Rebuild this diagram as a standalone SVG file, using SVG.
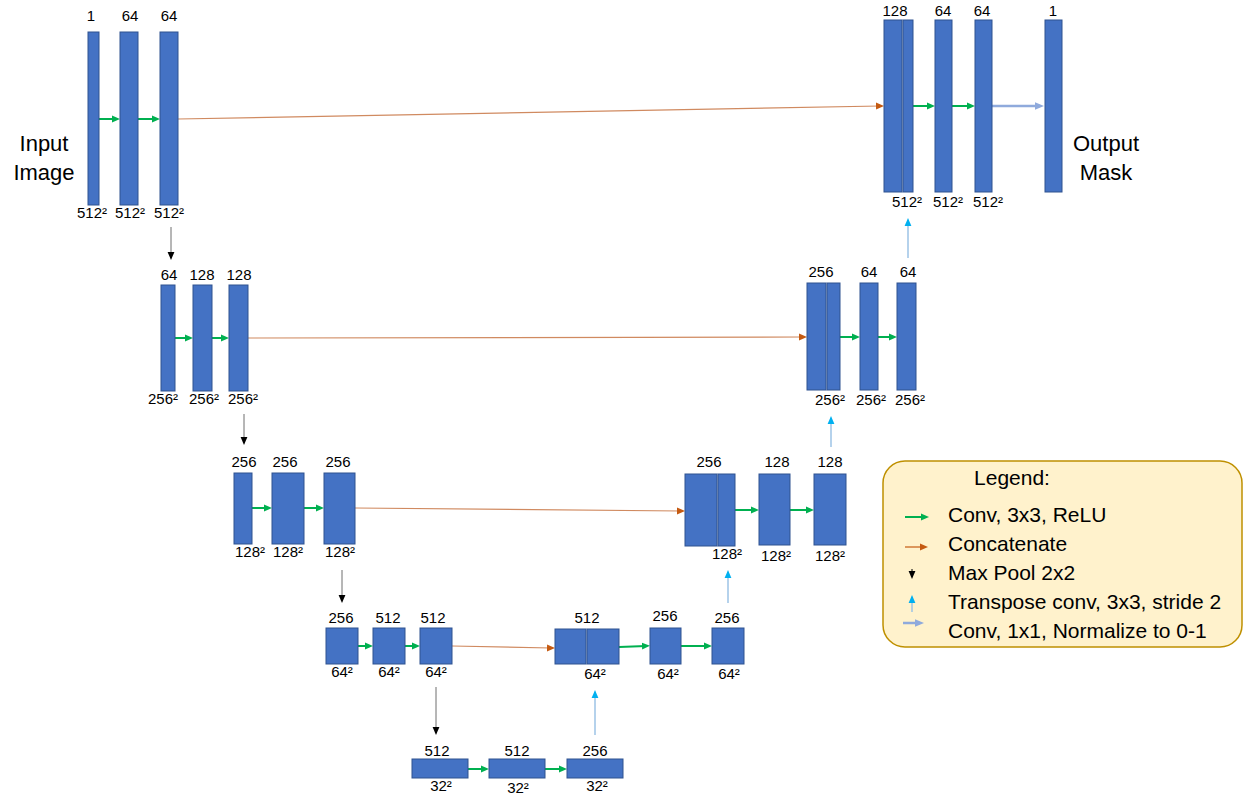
<svg xmlns="http://www.w3.org/2000/svg" width="1244" height="794" viewBox="0 0 1244 794">
<style>
.b{fill:#4472C4;stroke:#2F528F;stroke-width:1}
.t{font-family:"Liberation Sans",Arial,sans-serif;font-size:15px;fill:#000;text-anchor:middle}
.big{font-family:"Liberation Sans",Arial,sans-serif;font-size:22px;fill:#000;text-anchor:middle}
.lg{font-family:"Liberation Sans",Arial,sans-serif;font-size:21px;fill:#000}
.cg{stroke:#00B050;stroke-width:2;fill:none;marker-end:url(#mg)}
.cc{stroke:#D08A60;stroke-width:1.2;fill:none;marker-end:url(#mo)}
.cp{stroke:#6F6F6F;stroke-width:1;fill:none;marker-end:url(#mk)}
.cu{stroke:#9DC3E6;stroke-width:1.5;fill:none;marker-end:url(#mu)}
.cl{stroke:#8FAADC;stroke-width:2.5;fill:none;marker-end:url(#ml)}
</style>
<defs>
<marker id="mg" markerUnits="userSpaceOnUse" markerWidth="8" markerHeight="8" refX="4" refY="4" orient="auto"><path d="M0,0.6 L8,4 L0,7.4z" fill="#00B050"/></marker>
<marker id="mo" markerUnits="userSpaceOnUse" markerWidth="8" markerHeight="8" refX="4" refY="4" orient="auto"><path d="M0,0.5 L8,4 L0,7.5z" fill="#C55A11"/></marker>
<marker id="mk" markerUnits="userSpaceOnUse" markerWidth="8" markerHeight="8" refX="4" refY="4" orient="auto"><path d="M0,0.6 L8,4 L0,7.4z" fill="#000"/></marker>
<marker id="mu" markerUnits="userSpaceOnUse" markerWidth="8" markerHeight="8" refX="4" refY="4" orient="auto"><path d="M0,0.6 L8,4 L0,7.4z" fill="#00B0F0"/></marker>
<marker id="ml" markerUnits="userSpaceOnUse" markerWidth="9" markerHeight="9" refX="5" refY="4.5" orient="auto"><path d="M0,0.8 L9,4.5 L0,8.2z" fill="#8FAADC"/></marker>
</defs>

<g id="io-labels">
<text class="big" x="44" y="151">Input</text>
<text class="big" x="44" y="180">Image</text>
<text class="big" x="1106" y="151">Output</text>
<text class="big" x="1106" y="180">Mask</text>
</g>

<g id="connectors">
<line class="cg" x1="99" y1="119" x2="116" y2="119"/>
<line class="cg" x1="138" y1="119" x2="156" y2="119"/>
<line class="cg" x1="913" y1="106" x2="931" y2="106"/>
<line class="cg" x1="952" y1="106" x2="971" y2="106"/>
<line class="cg" x1="175" y1="338" x2="189" y2="338"/>
<line class="cg" x1="212" y1="338" x2="225" y2="338"/>
<line class="cg" x1="840" y1="337" x2="856" y2="337"/>
<line class="cg" x1="878" y1="337" x2="893" y2="337"/>
<line class="cg" x1="252" y1="508" x2="268" y2="508"/>
<line class="cg" x1="304" y1="508" x2="320" y2="508"/>
<line class="cg" x1="735" y1="510" x2="755" y2="510"/>
<line class="cg" x1="790" y1="510" x2="810" y2="510"/>
<line class="cg" x1="358" y1="646" x2="369" y2="646"/>
<line class="cg" x1="405" y1="646" x2="416" y2="646"/>
<line class="cg" x1="619" y1="647" x2="646" y2="646"/>
<line class="cg" x1="681" y1="646" x2="708" y2="646"/>
<line class="cg" x1="468" y1="769" x2="485" y2="769"/>
<line class="cg" x1="545" y1="769" x2="563" y2="769"/>
<line class="cl" x1="992" y1="106" x2="1040" y2="106"/>
<line class="cc" x1="178" y1="119" x2="880" y2="106"/>
<line class="cc" x1="248" y1="338" x2="803" y2="337"/>
<line class="cc" x1="355" y1="508" x2="681" y2="511"/>
<line class="cc" x1="452" y1="646" x2="551" y2="648"/>
<line class="cp" x1="171" y1="227" x2="171" y2="256"/>
<line class="cp" x1="244" y1="414" x2="244" y2="441"/>
<line class="cp" x1="342" y1="570" x2="342" y2="599"/>
<line class="cp" x1="436" y1="687" x2="436" y2="731"/>
<line class="cu" x1="595" y1="735" x2="595" y2="694"/>
<line class="cu" x1="728" y1="603" x2="728" y2="574"/>
<line class="cu" x1="831" y1="447" x2="831" y2="420"/>
<line class="cu" x1="908" y1="258" x2="908" y2="222"/>
</g>

<g id="e1a"><rect class="b" x="88" y="32" width="11" height="173"/><text class="t" x="91" y="21">1</text><text class="t" x="92" y="218">512²</text></g>
<g id="e1b"><rect class="b" x="120" y="32" width="18" height="173"/><text class="t" x="130" y="21">64</text><text class="t" x="130" y="218">512²</text></g>
<g id="e1c"><rect class="b" x="160" y="32" width="18" height="173"/><text class="t" x="169" y="21">64</text><text class="t" x="169" y="218">512²</text></g>

<g id="d1a"><rect class="b" x="884" y="20" width="18" height="172"/><rect class="b" x="903" y="20" width="10" height="172"/><text class="t" x="895" y="16">128</text><text class="t" x="907" y="207">512²</text></g>
<g id="d1b"><rect class="b" x="935" y="20" width="17" height="172"/><text class="t" x="943" y="16">64</text><text class="t" x="948" y="207">512²</text></g>
<g id="d1c"><rect class="b" x="975" y="20" width="17" height="172"/><text class="t" x="982" y="16">64</text><text class="t" x="988" y="207">512²</text></g>
<g id="out"><rect class="b" x="1045" y="20" width="17" height="172"/><text class="t" x="1053" y="16">1</text></g>

<g id="e2a"><rect class="b" x="161" y="285" width="14" height="106"/><text class="t" x="169" y="280">64</text><text class="t" x="163" y="404">256²</text></g>
<g id="e2b"><rect class="b" x="193" y="285" width="19" height="106"/><text class="t" x="202" y="280">128</text><text class="t" x="204" y="404">256²</text></g>
<g id="e2c"><rect class="b" x="229" y="285" width="19" height="106"/><text class="t" x="239" y="280">128</text><text class="t" x="243" y="404">256²</text></g>

<g id="d2a"><rect class="b" x="807" y="283" width="19" height="107"/><rect class="b" x="827" y="283" width="13" height="107"/><text class="t" x="821" y="277">256</text><text class="t" x="830" y="405">256²</text></g>
<g id="d2b"><rect class="b" x="860" y="283" width="18" height="107"/><text class="t" x="869" y="277">64</text><text class="t" x="871" y="405">256²</text></g>
<g id="d2c"><rect class="b" x="897" y="283" width="19" height="107"/><text class="t" x="908" y="277">64</text><text class="t" x="910" y="405">256²</text></g>

<g id="e3a"><rect class="b" x="234" y="473" width="18" height="71"/><text class="t" x="244" y="467">256</text><text class="t" x="250" y="557">128²</text></g>
<g id="e3b"><rect class="b" x="272" y="473" width="32" height="71"/><text class="t" x="285" y="467">256</text><text class="t" x="288" y="557">128²</text></g>
<g id="e3c"><rect class="b" x="324" y="473" width="31" height="71"/><text class="t" x="338" y="467">256</text><text class="t" x="340" y="557">128²</text></g>

<g id="d3a"><rect class="b" x="685" y="474" width="32" height="72"/><rect class="b" x="718" y="474" width="17" height="72"/><text class="t" x="709" y="467">256</text><text class="t" x="727" y="559">128²</text></g>
<g id="d3b"><rect class="b" x="759" y="474" width="31" height="71"/><text class="t" x="777" y="467">128</text><text class="t" x="776" y="561">128²</text></g>
<g id="d3c"><rect class="b" x="814" y="474" width="32" height="71"/><text class="t" x="830" y="467">128</text><text class="t" x="830" y="561">128²</text></g>

<g id="e4a"><rect class="b" x="326" y="628" width="32" height="36"/><text class="t" x="341" y="623">256</text><text class="t" x="342" y="677">64²</text></g>
<g id="e4b"><rect class="b" x="373" y="628" width="32" height="36"/><text class="t" x="388" y="623">512</text><text class="t" x="389" y="677">64²</text></g>
<g id="e4c"><rect class="b" x="420" y="628" width="32" height="36"/><text class="t" x="433" y="623">512</text><text class="t" x="436" y="677">64²</text></g>

<g id="d4a"><rect class="b" x="555" y="629" width="31" height="35"/><rect class="b" x="587" y="629" width="32" height="35"/><text class="t" x="587" y="623">512</text><text class="t" x="595" y="679">64²</text></g>
<g id="d4b"><rect class="b" x="650" y="628" width="31" height="36"/><text class="t" x="665" y="621">256</text><text class="t" x="668" y="679">64²</text></g>
<g id="d4c"><rect class="b" x="712" y="628" width="32" height="36"/><text class="t" x="727" y="623">256</text><text class="t" x="729" y="679">64²</text></g>

<g id="b5a"><rect class="b" x="412" y="759" width="56" height="19"/><text class="t" x="437" y="756">512</text><text class="t" x="441" y="791">32²</text></g>
<g id="b5b"><rect class="b" x="489" y="759" width="56" height="19"/><text class="t" x="517" y="756">512</text><text class="t" x="518" y="793">32²</text></g>
<g id="b5c"><rect class="b" x="567" y="759" width="56" height="19"/><text class="t" x="595" y="756">256</text><text class="t" x="597" y="791">32²</text></g>

<g id="legend">
<rect x="883" y="461" width="359" height="186" rx="22" ry="22" fill="#FFF2CC" stroke="#BF9000" stroke-width="1.5"/>
<text class="lg" x="1012" y="485" text-anchor="middle">Legend:</text>
<line class="cg" x1="905" y1="517" x2="925" y2="517"/>
<text class="lg" x="948" y="522">Conv, 3x3, ReLU</text>
<line class="cc" x1="905" y1="547" x2="924" y2="547" style="stroke:#C55A11"/>
<text class="lg" x="948" y="551">Concatenate</text>
<line class="cp" x1="912" y1="569" x2="912" y2="575" style="stroke:#000"/>
<text class="lg" x="948" y="580">Max Pool 2x2</text>
<line class="cu" x1="912" y1="612" x2="912" y2="599"/>
<text class="lg" x="948" y="609">Transpose conv, 3x3, stride 2</text>
<line class="cl" x1="903" y1="623" x2="920" y2="623"/>
<text class="lg" x="948" y="638">Conv, 1x1, Normalize to 0-1</text>
</g>
</svg>
